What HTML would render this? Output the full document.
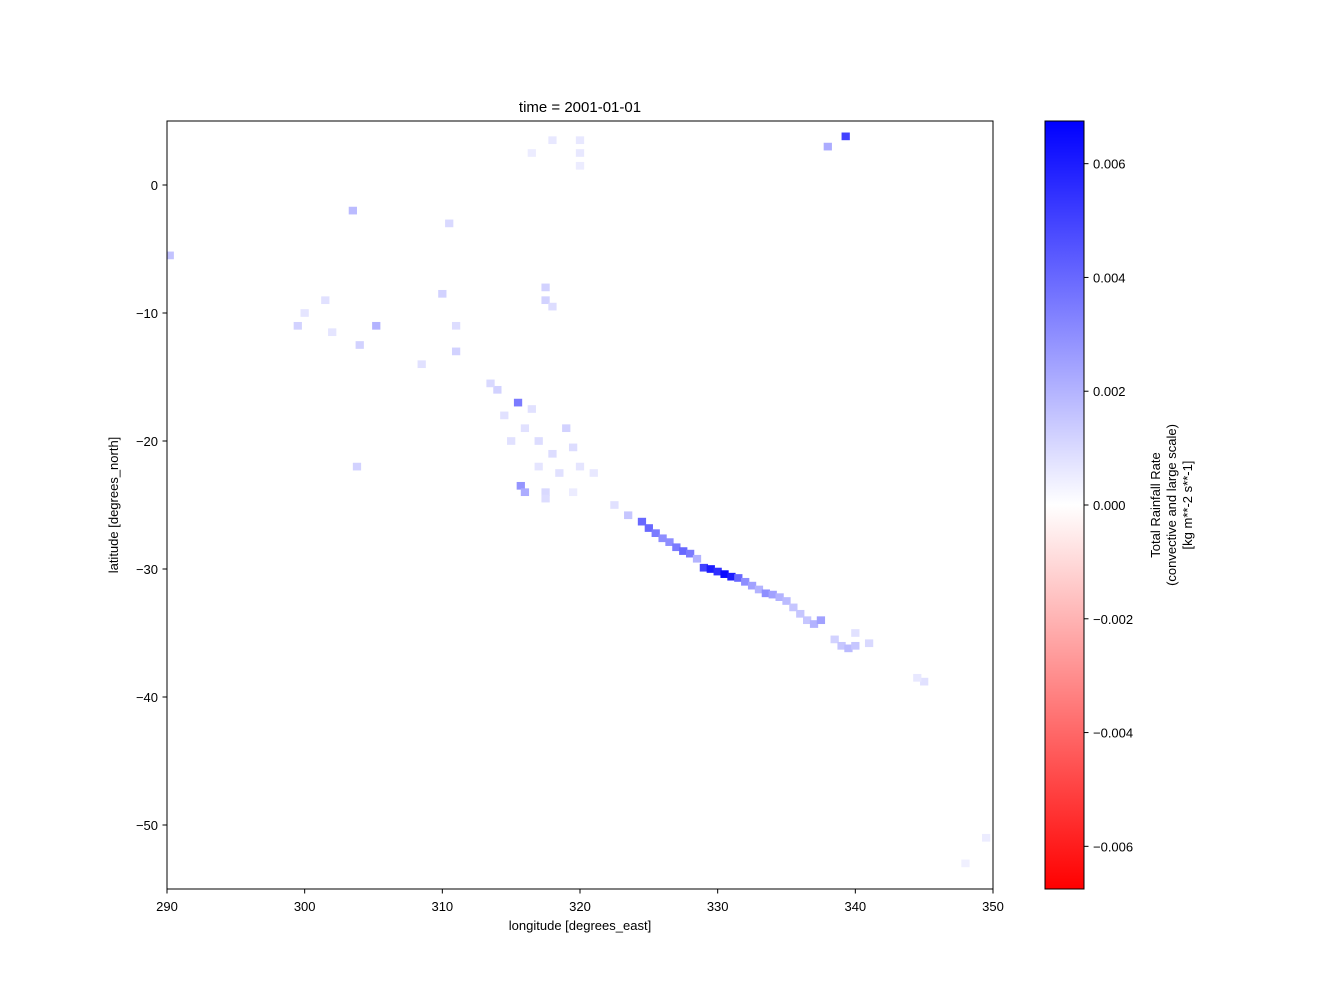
<!DOCTYPE html>
<html><head><meta charset="utf-8"><style>
html,body{margin:0;padding:0;background:#fff;}
svg{display:block;font-family:"Liberation Sans","DejaVu Sans",sans-serif;}
</style></head><body>
<svg id="chart" width="1333" height="1000" viewBox="0 0 1333 1000" xmlns="http://www.w3.org/2000/svg">
<defs>
<linearGradient id="bwr" x1="0" y1="1" x2="0" y2="0">
<stop offset="0" stop-color="#ff0000"/><stop offset="0.5" stop-color="#ffffff"/><stop offset="1" stop-color="#0000ff"/>
</linearGradient>
<clipPath id="plotclip"><rect x="167" y="121" width="826" height="768"/></clipPath>
</defs>
<text x="580" y="112" font-size="15" text-anchor="middle">time = 2001-01-01</text>
<rect x="167" y="121" width="826" height="768" fill="#fff"/>
<g id="cells" clip-path="url(#plotclip)"></g>
<rect x="167" y="121" width="826" height="768" fill="none" stroke="#000" stroke-width="1"/>
<g id="xticks"></g>
<g id="yticks"></g>
<text x="580" y="930" font-size="13" text-anchor="middle">longitude [degrees_east]</text>
<text transform="translate(118,505) rotate(-90)" font-size="13" text-anchor="middle">latitude [degrees_north]</text>
<rect x="1045" y="121" width="39" height="768" fill="url(#bwr)" stroke="#000" stroke-width="1"/>
<g id="cticks"></g>
<g transform="translate(1160,505) rotate(-90)" font-size="13" text-anchor="middle">
<text x="0" y="0">Total Rainfall Rate</text>
<text x="0" y="16">(convective and large scale)</text>
<text x="0" y="32">[kg m**-2 s**-1]</text>
</g>
</svg>
<script>
const xTicks=[290,300,310,320,330,340,350];
const yTicks=[0,-10,-20,-30,-40,-50];
const cTicks=[0.006,0.004,0.002,0,-0.002,-0.004,-0.006];
const cellLon=[322.5,323.5,324.5,325,325.5,326,326.5,327,327.5,328,328.5,329,329.5,330,330.5,331,331.5,332,332.5,333,333.5,334,334.5,335,335.5,336,336.5,337,337.5,338.5,339,339.5,340,341,345,315.7,316,317.5,315.5,314,316,318,319,317.5,317.5,339.3,338,303.5,305.2,304,290.2,303.8,310.5,310,299.5,311,320,318,311,320,313.5,317,319.5,314.5,315,316.5,318.5,317,320,321,319.5,317.5,318,320,316.5,308.5,300,301.5,302,340,344.5,349.5,348];
const cellLat=[-25,-25.8,-26.3,-26.8,-27.2,-27.6,-27.9,-28.3,-28.6,-28.8,-29.2,-29.9,-30,-30.2,-30.4,-30.6,-30.7,-31,-31.3,-31.6,-31.9,-32,-32.2,-32.5,-33,-33.5,-34,-34.3,-34,-35.5,-36,-36.2,-36,-35.8,-38.8,-23.5,-24,-24,-17,-16,-19,-21,-19,-9,-8,3.8,3,-2,-11,-12.5,-5.5,-22,-3,-8.5,-11,-13,2.5,3.5,-11,3.5,-15.5,-20,-20.5,-18,-20,-17.5,-22.5,-22,-22,-22.5,-24,-24.5,-9.5,1.5,2.5,-14,-10,-9,-11.5,-35,-38.5,-51,-53];
const cellVal=[0.0008,0.0015,0.004,0.004,0.0035,0.003,0.003,0.0035,0.004,0.0035,0.002,0.005,0.006,0.0055,0.0065,0.006,0.004,0.003,0.0025,0.002,0.003,0.0025,0.002,0.0018,0.0015,0.0015,0.0015,0.002,0.0025,0.0012,0.0015,0.0018,0.0015,0.001,0.0008,0.0028,0.0022,0.001,0.0035,0.0012,0.0008,0.0009,0.0012,0.0012,0.0012,0.005,0.0022,0.0018,0.002,0.0012,0.0016,0.0012,0.001,0.0012,0.0012,0.0012,0.0006,0.0006,0.0009,0.0006,0.001,0.0009,0.0009,0.0008,0.0008,0.0008,0.0008,0.0007,0.0007,0.0006,0.0005,0.0009,0.0009,0.0005,0.0005,0.0008,0.0007,0.0008,0.0007,0.0008,0.0006,0.0005,0.0004];
const NS='http://www.w3.org/2000/svg';
const X0=167,X1=993,Y0=121,Y1=889;
const xs=l=>X0+(l-290)/60*(X1-X0);
const ys=a=>Y0+(5-a)/60*(Y1-Y0);
const cs=v=>505-v/0.00675*384;
function col(v){const t=Math.max(-1,Math.min(1,v/0.00675));if(t>=0){const c=Math.round(255*(1-t));return `rgb(${c},${c},255)`;}const c=Math.round(255*(1+t));return `rgb(255,${c},${c})`;}
const g=document.getElementById('cells');
for(let i=0;i<cellLon.length;i++){
 const r=document.createElementNS(NS,'rect');
 const w=0.6*(X1-X0)/60,h=0.6*(Y1-Y0)/60;
 r.setAttribute('x',xs(cellLon[i])-w/2);r.setAttribute('y',ys(cellLat[i])-h/2);
 r.setAttribute('width',w);r.setAttribute('height',h);r.setAttribute('fill',col(cellVal[i]));
 
 
 g.appendChild(r);
}
const fmt=v=>(v<0?'\u2212':'')+Math.abs(v).toFixed(0);
const gx=document.getElementById('xticks');
xTicks.forEach(v=>{const x=xs(v);
 const l=document.createElementNS(NS,'line');l.setAttribute('x1',x);l.setAttribute('x2',x);l.setAttribute('y1',889);l.setAttribute('y2',893.5);l.setAttribute('stroke','#000');
 
 
 gx.appendChild(l);
 const t=document.createElementNS(NS,'text');t.setAttribute('x',x);t.setAttribute('y',911);t.setAttribute('font-size','13');t.setAttribute('text-anchor','middle');t.textContent=fmt(v);
 
 
 gx.appendChild(t);});
const gy=document.getElementById('yticks');
yTicks.forEach(v=>{const y=ys(v);
 const l=document.createElementNS(NS,'line');l.setAttribute('x1',162.5);l.setAttribute('x2',167);l.setAttribute('y1',y);l.setAttribute('y2',y);l.setAttribute('stroke','#000');
 
 
 gy.appendChild(l);
 const t=document.createElementNS(NS,'text');t.setAttribute('x',158);t.setAttribute('y',y+5);t.setAttribute('font-size','13');t.setAttribute('text-anchor','end');t.textContent=fmt(v);
 
 
 gy.appendChild(t);});
const gc=document.getElementById('cticks');
cTicks.forEach(v=>{const y=cs(v);
 const l=document.createElementNS(NS,'line');l.setAttribute('x1',1084);l.setAttribute('x2',1088.5);l.setAttribute('y1',y);l.setAttribute('y2',y);l.setAttribute('stroke','#000');
 
 
 gc.appendChild(l);
 const t=document.createElementNS(NS,'text');t.setAttribute('x',1093);t.setAttribute('y',y+5);t.setAttribute('font-size','13');t.textContent=(v<0?'\u2212':'')+Math.abs(v).toFixed(3);
 
 
 gc.appendChild(t);});
</script>
</body></html>
